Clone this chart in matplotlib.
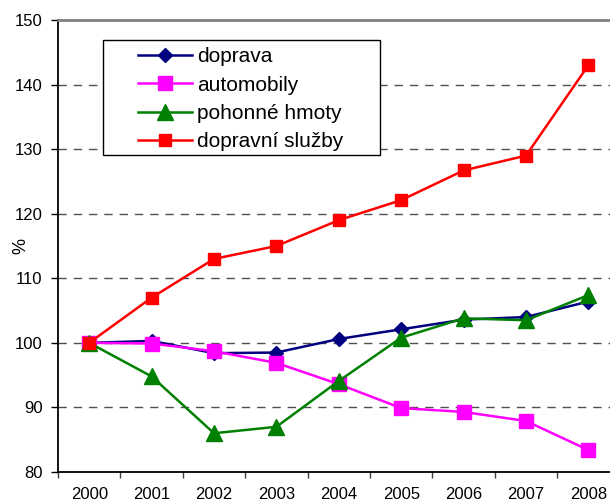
import matplotlib
matplotlib.use("Agg")
import matplotlib.pyplot as plt
from matplotlib.patches import Rectangle
from matplotlib.ticker import FixedLocator, NullFormatter

plt.rcParams['font.family'] = ['Liberation Sans', 'DejaVu Sans']

years = ['2000', '2001', '2002', '2003', '2004', '2005', '2006', '2007', '2008']
doprava = [100, 100.3, 98.4, 98.5, 100.6, 102.1, 103.6, 104.0, 106.4]
automobily = [100, 99.9, 98.7, 96.9, 93.6, 89.9, 89.3, 87.9, 83.4]
pohonne_hmoty = [100, 94.8, 86.0, 87.0, 94.1, 100.8, 103.8, 103.5, 107.4]
dopravni_sluzby = [100, 107.0, 113.0, 115.0, 119.0, 122.1, 126.7, 129.0, 143.0]
yticks = [80, 90, 100, 110, 120, 130, 140, 150]

W, H = 610, 501
fig = plt.figure(figsize=(W / 100, H / 100), dpi=100)
ax = fig.add_axes([58 / W, (H - 472) / H, 561.6 / W, 452 / H])

x = list(range(len(years)))
ax.plot(x, doprava, color='#000080', marker='D', markersize=7, lw=1.8, label='doprava', zorder=3)
ax.plot(x, automobily, color='#FF00FF', marker='s', markersize=10, lw=1.8, label='automobily', zorder=4)
ax.plot(x, pohonne_hmoty, color='#008000', marker='^', markersize=11, lw=1.8, label='pohonné hmoty', zorder=5)
ax.plot(x, dopravni_sluzby, color='#FF0000', marker='s', markersize=9, lw=1.8, label='dopravní služby', zorder=6)

ax.set_xlim(-0.5, len(years) - 0.5)
ax.set_ylim(80, 150)
ax.set_yticks(yticks)
for v in yticks[1:-1]:
    ax.axhline(v, color='#505050', lw=1, ls=(0, (6, 5)), zorder=1)

ax.xaxis.set_major_locator(FixedLocator([i - 0.5 for i in range(len(years) + 1)]))
ax.xaxis.set_major_formatter(NullFormatter())
ax.xaxis.set_minor_locator(FixedLocator(x))
ax.set_xticklabels(years, minor=True)
ax.tick_params(axis='x', which='major', direction='out', length=4, width=1, color='#404040')
ax.tick_params(axis='x', which='minor', length=0, pad=11, labelsize=12)
ax.tick_params(axis='y', direction='out', length=5, width=1, labelsize=12, pad=6)

for s in ['left', 'bottom']:
    ax.spines[s].set_color('black')
    ax.spines[s].set_linewidth(1.3)
ax.spines['top'].set_color('#808080')
ax.spines['top'].set_linewidth(2)
ax.spines['right'].set_visible(False)

ax.set_ylabel('%', fontsize=13)
ax.yaxis.set_label_coords(-0.051, 0.5)

rect = Rectangle((103 / W, (H - 155) / H), 277 / W, 115 / H,
                 transform=fig.transFigure, facecolor='white',
                 edgecolor='black', lw=1, zorder=10, clip_on=False)
ax.add_patch(rect)
leg = ax.legend(loc='upper left', bbox_to_anchor=(134 / W, (H - 43) / H),
                bbox_transform=fig.transFigure, frameon=False, fontsize=15,
                handlelength=2.6, handletextpad=0.24, labelspacing=0.45,
                borderpad=0.2, borderaxespad=0)
leg.set_zorder(11)

fig.savefig('out.png', dpi=100)
